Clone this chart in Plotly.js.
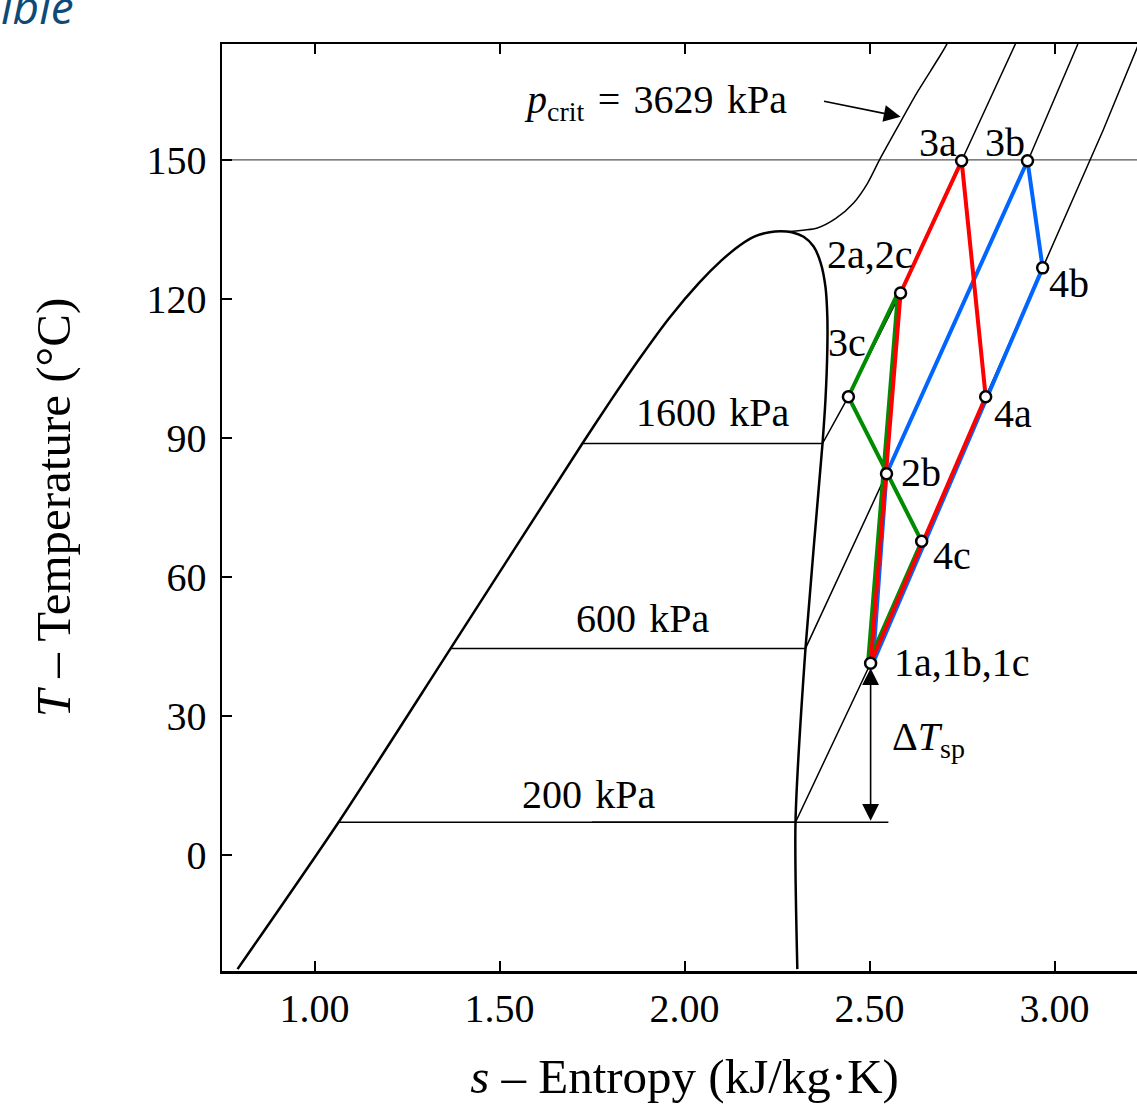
<!DOCTYPE html>
<html>
<head>
<meta charset="utf-8">
<script src="https://cdn.plot.ly/plotly-3.0.1.min.js"></script>
<style>
  html, body { margin: 0; padding: 0; overflow: hidden; background: #ffffff; }
  #chart { width: 1160px; height: 1104px; }
</style>
</head>
<body>
<div id="chart"></div>
<script>
// ---------------- data ----------------
// Saturation dome of isobutane (liquid line -> critical point -> vapour line)
const domeS = [0.792, 1.065, 1.368, 1.724, 1.800, 1.880, 1.960, 2.040, 2.100, 2.150, 2.190, 2.230, 2.260, 2.290, 2.322, 2.349, 2.368, 2.381, 2.386, 2.386, 2.381, 2.373, 2.327, 2.300, 2.305];
const domeT = [-24.6, 7.1, 44.6, 88.8, 98.0, 107.3, 116.0, 123.5, 128.3, 131.6, 133.5, 134.4, 134.6, 134.4, 133.4, 131.3, 127.8, 122.6, 116.2, 109.1, 98.3, 88.8, 44.6, 7.1, -24.6];

// Critical isobar p_crit = 3629 kPa
const critS = [2.278, 2.359, 2.408, 2.457, 2.495, 2.527, 2.584, 2.630, 2.684, 2.708, 2.716];
const critT = [134.5, 135.3, 137.3, 140.7, 145.0, 150.0, 158.2, 164.7, 171.6, 174.8, 176.5];

// Isobars: saturation (two-phase) part + superheated part
const p200S  = [1.065, 2.300, 2.503, 2.814, 2.968, 3.132, 3.232];
const p200T  = [7.1, 7.1, 41.4, 98.9, 126.7, 156.5, 175.9];
const p600S  = [1.368, 2.327, 2.546, 2.927, 3.062, 3.066];
const p600T  = [44.6, 44.6, 82.3, 149.6, 174.8, 176.0];
const p1600S = [1.724, 2.373, 2.443, 2.584, 2.749, 2.895, 2.900];
const p1600T = [88.8, 88.8, 98.9, 121.3, 149.8, 174.8, 176.0];

// Saturation temperature at 200 kPa, used for the superheat reference
const tSat200 = 7.1;
const refLineS = [1.75, 2.551];

// Upper temperature limit (°C)
const tMax = 150;

// Cycle a (red), b (blue), c (green): states 1 -> 2 -> 3 -> 4 -> 1
const cycA_S = [2.503, 2.584, 2.749, 2.814, 2.503];
const cycA_T = [41.4, 121.3, 149.8, 98.9, 41.4];
const cycB_S = [2.509, 2.546, 2.927, 2.968, 2.509];
const cycB_T = [41.4, 82.3, 149.8, 126.7, 41.4];
const cycC_S = [2.496, 2.577, 2.443, 2.641, 2.496];
const cycC_T = [41.4, 121.3, 98.9, 67.7, 41.4];

// Labelled state points
const stateNames = ['1a,1b,1c', '2a,2c', '2b', '3a', '3b', '3c', '4a', '4b', '4c'];
const stateS = [2.503, 2.584, 2.546, 2.749, 2.927, 2.443, 2.814, 2.968, 2.641];
const stateT = [41.4, 121.3, 82.3, 149.8, 149.8, 98.9, 98.9, 126.7, 67.7];

// Axis ticks
const xTickVals = [1.0, 1.5, 2.0, 2.5, 3.0];
const xTickText = ['1.00', '1.50', '2.00', '2.50', '3.00'];
const yTickVals = [0, 30, 60, 90, 120, 150];
const yTickText = ['0', '30', '60', '90', '120', '150'];

// ---------------- styling ----------------
const FONT = 'Liberation Serif, Times New Roman, serif';
const black = '#000000';
const cRed = '#ff0000', cBlue = '#0066ff', cGreen = '#008c00';
const SP = '\u2004'; // slightly wider word space, like the LaTeX spacing of the original

function line(x, y, color, width, shape) {
  return { type: 'scatter', mode: 'lines', x: x, y: y,
           line: { color: color, width: width, shape: shape || 'linear', smoothing: 0.7 },
           hoverinfo: 'skip', showlegend: false };
}

const traces = [
  line(domeS, domeT, black, 2.5, 'spline'),
  line(critS, critT, black, 1.5, 'spline'),
  line(p200S, p200T, black, 1.5),
  line(p600S, p600T, black, 1.5),
  line(p1600S, p1600T, black, 1.5),
  line(refLineS, [tSat200, tSat200], black, 1.5),
  line(cycB_S, cycB_T, cBlue, 4),
  line(cycC_S, cycC_T, cGreen, 4),
  line(cycA_S, cycA_T, cRed, 4),
  { type: 'scatter', mode: 'markers', x: stateS, y: stateT, hoverinfo: 'skip', showlegend: false,
    marker: { size: 11, color: '#ffffff', line: { color: black, width: 2.5 } } },
  // carrier for the right-hand (kelvin) axis
  { type: 'scatter', mode: 'lines', x: [], y: [], yaxis: 'y2', hoverinfo: 'skip', showlegend: false }
];

// label offsets (pixels) relative to each state point
const labelShift = {
  '1a,1b,1c': [91, 1], '2a,2c': [-31, 38], '2b': [34, 1], '3a': [-24, 18], '3b': [-22, 18],
  '3c': [-1, 54], '4a': [27, -17], '4b': [26, -16], '4c': [30, -14]
};

const annFont = { family: FONT, size: 40, color: black };
const annotations = stateNames.map((n, i) => ({
  x: stateS[i], y: stateT[i], xref: 'x', yref: 'y', text: n, showarrow: false,
  xshift: labelShift[n][0], yshift: labelShift[n][1], font: annFont,
  xanchor: 'center', yanchor: 'middle'
}));

// isobar labels
annotations.push(
  { x: 2.078, y: p1600T[0], text: '1600' + SP + 'kPa', showarrow: false, yshift: 31, font: annFont },
  { x: 1.889, y: p600T[0], text: '600' + SP + 'kPa', showarrow: false, yshift: 30, font: annFont },
  { x: 1.741, y: p200T[0], text: '200' + SP + 'kPa', showarrow: false, yshift: 28, font: annFont },
  { x: 1.922, y: 162.5, text: '<i>p</i><sub>crit</sub>' + SP + '=' + SP + '3629' + SP + 'kPa', showarrow: false, font: annFont },
  // arrow to the critical isobar
  { x: 2.584, y: 159.3, ax: 2.373, ay: 162.7, xref: 'x', yref: 'y', axref: 'x', ayref: 'y',
    text: '', showarrow: true, arrowhead: 2, arrowsize: 2.1, arrowwidth: 1.6, arrowcolor: black },
  // superheat arrow
  { x: stateS[0], y: stateT[0], ax: stateS[0], ay: tSat200, xref: 'x', yref: 'y', axref: 'x', ayref: 'y',
    text: '', showarrow: true, arrowhead: 2, startarrowhead: 2, arrowside: 'end+start',
    arrowsize: 2.1, startarrowsize: 2.1, arrowwidth: 1.6, arrowcolor: black, standoff: 5 },
  { x: stateS[0], y: 25.0, text: 'Δ<i>T</i><sub>sp</sub>', showarrow: false, xshift: 58, font: annFont },
  // fragment of the page title above the chart
  { xref: 'paper', yref: 'paper', x: (76 - 222) / 925, y: (971 - 6) / 927, xanchor: 'right', yanchor: 'middle',
    text: '<i>ible</i>', showarrow: false,
    font: { family: 'Open Sans, sans-serif', size: 46, color: '#0e4a78' } }
);

const axisCommon = {
  showgrid: false, zeroline: false, showline: true, linecolor: black, linewidth: 2.5,
  ticks: 'inside', ticklen: 10, tickwidth: 2, tickcolor: black,
  tickfont: { family: FONT, size: 40, color: black }
};

const layout = {
  width: 1160, height: 1104,
  margin: { l: 222, r: 13, t: 44, b: 133, pad: 0 },
  paper_bgcolor: '#ffffff', plot_bgcolor: '#ffffff',
  showlegend: false,
  font: { family: FONT, color: black },
  xaxis: Object.assign({}, axisCommon, {
    range: [0.75, 3.25], tickvals: xTickVals, ticktext: xTickText, mirror: 'ticks',
    ticklabelstandoff: 0,
    title: { text: '<i>s</i> – Entropy (kJ/kg·K)', font: { family: FONT, size: 49, color: black }, standoff: 38 }
  }),
  yaxis: Object.assign({}, axisCommon, {
    range: [-25, 175], tickvals: yTickVals, ticktext: yTickText, mirror: true,
    ticklabelstandoff: 5,
    title: { text: '<i>T</i> – Temperature (°C)', font: { family: FONT, size: 49, color: black }, standoff: 61 }
  }),
  yaxis2: Object.assign({}, axisCommon, {
    overlaying: 'y', side: 'right', range: [-25 + 273.15, 175 + 273.15], tick0: 0, dtick: 25,
    showticklabels: false, showline: false
  }),
  shapes: [
    { type: 'line', xref: 'paper', x0: 0, x1: 1, yref: 'y', y0: tMax, y1: tMax,
      line: { color: '#555555', width: 1.2 }, layer: 'below' }
  ],
  annotations: annotations
};

Plotly.newPlot('chart', traces, layout, { staticPlot: true, displayModeBar: false });
</script>
</body>
</html>
